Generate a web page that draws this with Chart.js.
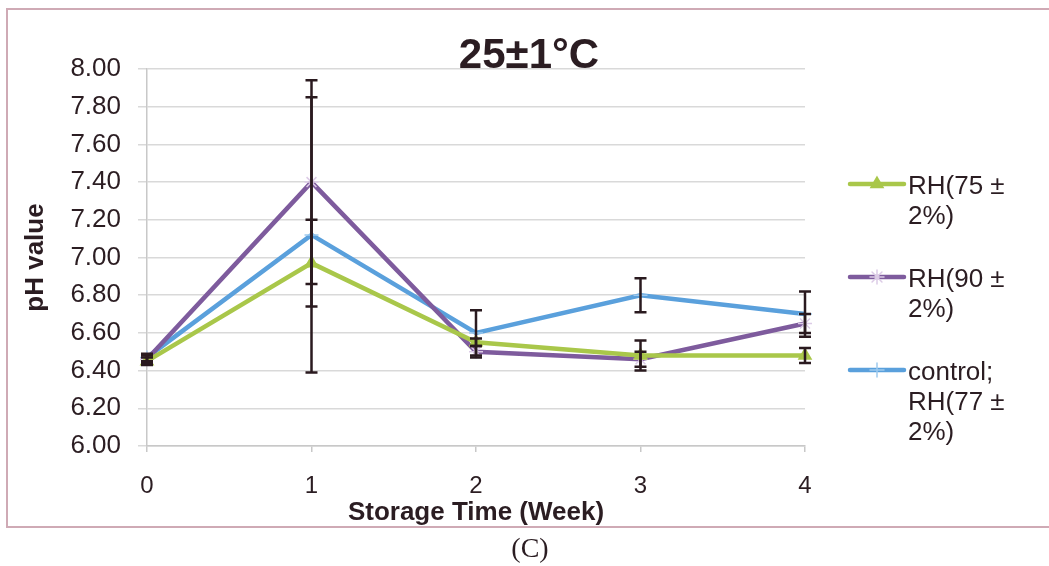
<!DOCTYPE html>
<html>
<head>
<meta charset="utf-8">
<script src="https://cdn.jsdelivr.net/npm/chart.js@4"></script>
<style>
  html, body { margin: 0; padding: 0; background: #fff; }
  #wrap { width: 1049px; height: 566px; }
</style>
</head>
<body>
<div id="wrap"><canvas id="phChart" width="1049" height="566"></canvas></div>
<script>
// data
const weeks = ['0', '1', '2', '3', '4'];
const yTickValues = [6.0, 6.2, 6.4, 6.6, 6.8, 7.0, 7.2, 7.4, 7.6, 7.8, 8.0];

const rh75 = [6.45, 6.97, 6.55, 6.48, 6.48];
const rh75Err = [0.02, 0.23, 0.02, 0.08, 0.04];
const rh90 = [6.46, 7.40, 6.50, 6.46, 6.65];
const rh90Err = [0.02, 0.54, 0.03, 0.04, 0.05];
const control = [6.47, 7.12, 6.60, 6.80, 6.70];
const controlErr = [0.02, 0.73, 0.12, 0.09, 0.12];

const legendLines = [['RH(75 ±', '2%)'], ['RH(90 ±', '2%)'], ['control;', 'RH(77 ±', '2%)']];

const textColor = '#2b1d22';
const fontFamily = '"Liberation Sans", Arial, sans-serif';

// frame, title, caption
const decorPlugin = {
  id: 'decor',
  beforeDraw(chart) {
    const c = chart.ctx;
    c.save();
    c.strokeStyle = '#cfaab5';
    c.lineWidth = 2;
    c.strokeRect(7, 9, 1100, 518);
    c.restore();
  },
  afterDraw(chart) {
    const c = chart.ctx;
    c.save();
    c.fillStyle = textColor;
    c.textAlign = 'center';
    c.textBaseline = 'middle';
    c.font = 'bold 42px ' + fontFamily;
    c.fillText('25±1°C', 529, 56);
    c.font = '28px "Liberation Serif", "Times New Roman", serif';
    c.fillText('(C)', 530, 550);
    c.restore();
  }
};

// vertical error bars, positioned through the chart scales
const errorBarPlugin = {
  id: 'errorBars',
  afterDatasetsDraw(chart) {
    const c = chart.ctx;
    const xs = chart.scales.x, ys = chart.scales.y;
    c.save();
    c.strokeStyle = '#2a1a1f';
    c.lineWidth = 2.5;
    chart.data.datasets.forEach(ds => {
      ds.values.forEach((v, i) => {
        const x = xs.getPixelForValue(i);
        const top = ys.getPixelForValue(v + ds.errors[i]);
        const bot = ys.getPixelForValue(v - ds.errors[i]);
        c.beginPath();
        c.moveTo(x, top); c.lineTo(x, bot);
        c.moveTo(x - 6, top); c.lineTo(x + 6, top);
        c.moveTo(x - 6, bot); c.lineTo(x + 6, bot);
        c.stroke();
      });
    });
    c.restore();
  }
};

// legend on the right with wrapped labels
const legendPlugin = {
  id: 'sideLegend',
  afterDraw(chart) {
    const c = chart.ctx;
    c.save();
    c.font = '26px ' + fontFamily;
    c.textAlign = 'left';
    c.textBaseline = 'alphabetic';
    let base = 194;
    chart.data.datasets.forEach((ds, k) => {
      const ly = base - 10;
      c.strokeStyle = ds.borderColor;
      c.lineWidth = 4.5;
      c.lineCap = 'round';
      c.beginPath();
      c.moveTo(850, ly); c.lineTo(904, ly);
      c.stroke();
      c.fillStyle = ds.pointBackgroundColor;
      c.strokeStyle = ds.pointBorderColor;
      c.lineWidth = ds.pointBorderWidth;
      Chart.helpers.drawPoint(c, { pointStyle: ds.pointStyle, radius: ds.pointRadius, rotation: 0, borderWidth: ds.pointBorderWidth }, 877, ly);
      c.fillStyle = textColor;
      legendLines[k].forEach((t, j) => c.fillText(t, 908, base + j * 30));
      base += legendLines[k].length * 30 + 33;
    });
    c.restore();
  }
};

const makeSet = (label, values, errors, color, style, ptFill, ptBorder) => ({
  label: label,
  data: values,
  values: values,
  errors: errors,
  borderColor: color,
  borderWidth: 4.5,
  tension: 0,
  pointStyle: style,
  pointRadius: 7,
  pointBackgroundColor: ptFill,
  pointBorderColor: ptBorder,
  pointBorderWidth: 1.5
});

new Chart(document.getElementById('phChart'), {
  type: 'line',
  data: {
    labels: weeks,
    datasets: [
      makeSet('RH(75 ± 2%)', rh75, rh75Err, '#a9c74a', 'triangle', '#a9c74a', '#a9c74a'),
      makeSet('RH(90 ± 2%)', rh90, rh90Err, '#7e5b9d', 'star', '#e3d3ea', '#dccbe6'),
      makeSet('control; RH(77 ± 2%)', control, controlErr, '#5aa0dc', 'cross', '#9fcaee', '#9fcaee')
    ]
  },
  options: {
    responsive: false,
    devicePixelRatio: 1,
    animation: false,
    layout: { padding: { left: 20, top: 69, right: 244, bottom: 40 } },
    plugins: {
      legend: { display: false },
      title: { display: false },
      tooltip: { enabled: false }
    },
    scales: {
      x: {
        type: 'category',
        offset: false,
        afterFit: s => { s.height = 80; },
        grid: { drawOnChartArea: false, tickLength: 6, color: '#c8c8c8', lineWidth: 1.5 },
        border: { color: '#c8c8c8', width: 1.5 },
        ticks: { color: textColor, font: { family: fontFamily, size: 24 }, padding: 20 },
        title: {
          display: true,
          text: 'Storage Time (Week)',
          color: textColor,
          font: { family: fontFamily, size: 26, weight: 'bold', lineHeight: 1 },
          padding: { top: 0, bottom: 0 }
        }
      },
      y: {
        min: 6,
        max: 8,
        afterFit: s => { s.width = 127; },
        afterBuildTicks: s => { s.ticks = yTickValues.map(v => ({ value: v })); },
        grid: { color: '#d9d9d9', lineWidth: 1.5, tickLength: 9 },
        border: { color: '#c8c8c8', width: 1.5 },
        ticks: {
          color: textColor,
          font: { family: fontFamily, size: 26 },
          padding: 17,
          callback: v => v.toFixed(2)
        },
        title: {
          display: true,
          text: 'pH value',
          color: textColor,
          font: { family: fontFamily, size: 26, weight: 'bold', lineHeight: 1 },
          padding: { top: 3, bottom: 0 }
        }
      }
    }
  },
  plugins: [decorPlugin, errorBarPlugin, legendPlugin]
});
</script>
</body>
</html>
